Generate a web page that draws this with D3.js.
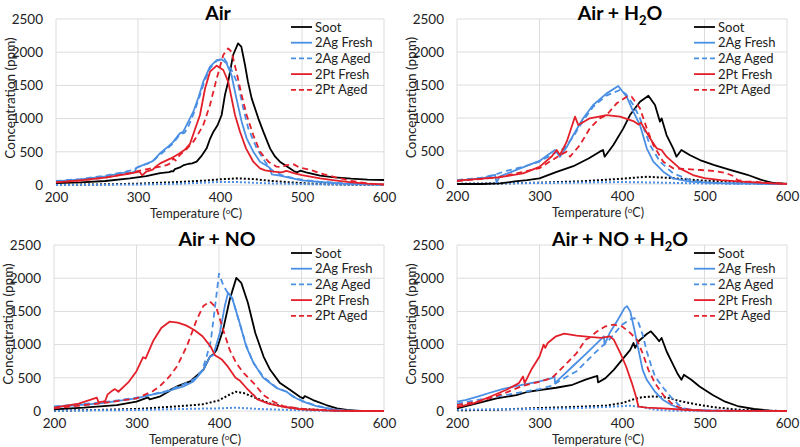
<!DOCTYPE html>
<html><head><meta charset="utf-8">
<script src="https://cdn.jsdelivr.net/npm/d3@7"></script>
<style>
html,body{margin:0;padding:0;background:#fff;}
svg{display:block;font-family:Lato,"Noto Sans",sans-serif;}
</style></head>
<body>
<svg id="chart" width="800" height="447"></svg>
<script>
// ---------------- DATA ----------------
const temperatureTicks = [200, 300, 400, 500, 600];
const concentrationTicks = [0, 500, 1000, 1500, 2000, 2500];
const seriesNames = ["Soot", "2Ag Fresh", "2Ag Aged", "2Pt Fresh", "2Pt Aged"];
const panelTitles = ["Air", "Air + H2O", "Air + NO", "Air + NO + H2O"];

// Panel 1: Air  ([temperature °C, concentration ppm])
const air_soot = [[200,30],[230,40],[260,60],[290,100],[310,135],[327,180],[338,195],[341,210],[343,205],[345,240],[352,270],[356,300],[362,320],[366,325],[371.5,351],[377,430],[383.7,552],[388,700],[392,803],[397,900],[402,1054],[406,1355],[410,1556],[416,1958],[422,2133],[426,2083],[430.5,1807],[434,1560],[438.6,1305],[446.7,1004],[452.8,803],[461,552],[467,430],[473,351],[485,251],[490,210],[493.5,190],[498,215],[505,190],[522,140],[540,115],[560,95],[580,82],[600,75]];
const air_agFresh = [[200,55],[230,85],[260,130],[285,190],[290,178],[296,200],[298,260],[303,285],[310,320],[318,360],[327,480],[335,560],[343,650],[351,778],[355,800],[360,920],[367.5,1104],[374,1330],[379.6,1556],[387.8,1782],[396,1882],[402,1892],[408,1832],[414,1656],[420,1305],[426.4,954],[432.5,703],[440.6,502],[448.8,351],[459,276],[461,250],[463,160],[473,140],[490,95],[500,70],[522,45],[550,22],[580,8],[600,5]];
const air_agAged = [[200,60],[230,90],[260,140],[285,200],[295,230],[300,270],[305,295],[312,320],[320,380],[327,460],[335,540],[343,630],[351,760],[357,790],[362,900],[368,1080],[375,1330],[381,1560],[388,1760],[396,1870],[405,1907],[414,1732],[422.3,1506],[428.4,1154],[434.5,853],[444.7,552],[455,351],[461,251],[466,200],[475,150],[490,100],[500,80],[520,50],[550,25],[600,5]];
const air_ptFresh = [[200,40],[230,70],[260,110],[290,170],[302,200],[305,145],[310,200],[318,230],[322,280],[327,326],[340,400],[350,470],[357,530],[363.4,620],[369,820],[375.6,1054],[381.7,1450],[387.8,1707],[396,1797],[404,1732],[410,1556],[418.3,1054],[424.4,803],[431.7,552],[440.6,351],[448.8,251],[455,220],[465,201],[475,190],[481,211],[490,180],[500,150],[522,100],[540,70],[560,40],[580,20],[600,10]];
const air_ptAged = [[200,40],[230,70],[260,110],[290,180],[300,210],[320,260],[327,276],[335,300],[340,330],[343,400],[346,370],[351,452],[360,550],[367.5,652],[373,760],[379.6,903],[387.8,1205],[396,1606],[404,1958],[410,2058],[414,2008],[420,1707],[426.4,1355],[432.5,1054],[440.6,753],[448.8,502],[459,351],[469,276],[475,270],[481,300],[490,310],[497.5,260],[510,230],[522,176],[540,120],[560,60],[580,25],[600,5]];
const air_dotBlack = [[200,2],[250,8],[300,20],[340,40],[380,65],[400,85],[420,100],[440,90],[460,65],[480,45],[500,28],[530,12],[560,5],[600,2]];
const air_dotBlue = [[200,0],[300,8],[350,20],[380,35],[400,45],[420,45],[440,35],[460,25],[500,15],[550,5],[600,0]];

// Panel 2: Air + H2O
const h2o_soot = [[200,0],[230,0],[252,8],[270,40],[285,60],[300,85],[320,180],[341,270],[360,390],[373,490],[377,515],[379,414],[389.5,590],[401.6,843],[409.7,1045],[421.8,1247],[432,1338],[440,1197],[446,944],[448,995],[454,742],[462,540],[466,414],[472,515],[482,439],[494.5,363],[511,290],[531,215],[552,140],[568,65],[584,15],[600,0]];
const h2o_agFresh = [[200,50],[232,90],[246,140],[248,25],[252,115],[272,215],[300,350],[310,440],[318.8,515],[324.8,414],[333,560],[341,742],[353,995],[365,1197],[381.4,1373],[395.5,1484],[405.6,1323],[413.7,1096],[421.8,894],[430,540],[438,338],[450,186],[462,85],[482,35],[515,12],[560,5],[600,0]];
const h2o_agAged = [[200,60],[230,95],[248,150],[260,200],[280,260],[300,340],[320,480],[330,540],[341,720],[353,960],[365,1170],[381,1340],[397.6,1424],[405,1360],[413.7,1197],[421.8,995],[434,590],[446,338],[462,161],[482,60],[500,25],[530,8],[600,0]];
const h2o_ptFresh = [[200,50],[250,100],[280,160],[300,260],[315,420],[320.8,515],[324.8,439],[333,641],[343,1020],[347,894],[361,995],[381.4,1045],[397.6,1020],[413.7,954],[420,900],[423,930],[434,692],[442,540],[448,515],[454,414],[470,237],[486,136],[500,90],[520,60],[540,40],[560,25],[580,10],[600,0]];
const h2o_ptAged = [[200,45],[250,100],[300,240],[325,439],[333,490],[337,414],[349,590],[361,843],[373,995],[381.4,1045],[393.5,1222],[405.6,1323],[411.7,1323],[421.8,1146],[430,843],[438,590],[450,338],[462,237],[478,227],[494.5,212],[510,200],[525,170],[535,120],[540,60],[550,40],[580,15],[600,5]];
const h2o_dotBlack = [[200,0],[250,8],[300,20],[350,40],[400,80],[430,110],[460,90],[500,50],[550,25],[580,10],[600,0]];
const h2o_dotBlue = [[200,5],[250,10],[300,15],[350,22],[400,30],[450,20],[500,8],[550,3],[600,0]];

// Panel 3: Air + NO
const no_soot = [[200,25],[236,50],[276,90],[300,140],[314,205],[316,175],[328,215],[340,300],[341,320],[349,370],[365,445],[381,620],[389,820],[393,850],[397,920],[405,1225],[413,1680],[421,2005],[427,1930],[435,1630],[444,1175],[454,820],[462,620],[474,420],[486,320],[498,215],[502,190],[504,225],[514,165],[530,90],[543,40],[555,15],[570,3],[600,0]];
const no_agFresh = [[200,60],[256,115],[300,190],[316,240],[336,290],[357,370],[369,445],[381,620],[389,820],[393,840],[401,1175],[407,1580],[411,1780],[416,1700],[425,1325],[433,970],[442,720],[454,495],[470,345],[482,290],[490,215],[502,140],[518,75],[538,25],[555,5],[600,0]];
const no_agAged = [[200,70],[256,125],[300,200],[336,300],[357,400],[370,480],[380,620],[385,820],[390,1050],[395,1550],[400,2070],[405,1900],[410,1790],[416,1700],[425,1325],[433,990],[441,740],[454,510],[470,350],[482,290],[490,220],[502,150],[518,80],[538,25],[555,5],[600,0]];
const no_ptFresh = [[200,50],[230,110],[252,200],[254,130],[262,150],[265,250],[270,300],[274,330],[278,290],[290,430],[300,600],[308,810],[311,790],[320,1050],[330,1250],[340,1345],[350,1330],[360,1290],[370,1220],[380,1125],[390,970],[395,840],[403,780],[410,680],[420,500],[425,460],[433,350],[440,260],[443,230],[446,180],[450,160],[460,110],[480,60],[500,25],[530,8],[560,0],[600,0]];
const no_ptAged = [[200,40],[256,115],[300,190],[320,300],[328,370],[340,520],[349,670],[361,975],[373,1375],[381,1580],[389,1650],[397,1550],[405,1225],[413,920],[421,720],[430,570],[442,420],[454,240],[466,140],[478,75],[498,35],[530,10],[560,0],[600,0]];
const no_dotBlack = [[200,5],[250,15],[300,30],[350,70],[380,100],[400,160],[410,230],[420,290],[430,270],[440,220],[460,120],[480,60],[500,30],[540,5],[560,0],[600,0]];
const no_dotBlue = [[200,5],[250,10],[300,15],[350,30],[400,40],[420,50],[450,30],[500,10],[550,0],[600,0]];

// Panel 4: Air + NO + H2O
const noh2o_soot = [[200,40],[224,115],[248,190],[272,240],[286,290],[300,315],[320,350],[340,395],[355,470],[368,520],[370,530],[371,430],[380,495],[390,620],[400,770],[410,920],[414,1025],[416,950],[420,1050],[430,1160],[435,1200],[442,1100],[445,1050],[448,1100],[454,900],[461,720],[467,570],[472,470],[475,545],[484,470],[494,370],[510,240],[525,140],[540,75],[560,30],[580,5],[600,0]];
const noh2o_agFresh = [[200,140],[210,165],[225,215],[240,275],[255,330],[270,370],[285,410],[300,445],[315,495],[318,530],[319,420],[325,495],[340,670],[355,845],[370,1025],[378,1125],[379,1000],[385,1175],[395,1375],[403,1550],[406,1580],[410,1500],[415,1225],[420,920],[425,620],[430,470],[440,290],[450,165],[460,90],[470,40],[485,15],[520,3],[600,0]];
const noh2o_agAged = [[200,110],[250,220],[300,330],[315,380],[325,460],[345,600],[365,850],[385,1080],[400,1300],[410,1380],[415,1400],[420,1330],[425,1150],[430,900],[435,700],[440,520],[450,350],[460,200],[468,100],[475,40],[485,15],[500,5],[600,0]];
const noh2o_ptFresh = [[200,60],[220,115],[240,215],[260,320],[275,420],[280,520],[282,420],[290,620],[300,820],[305,1000],[307,950],[310,1025],[320,1125],[330,1165],[345,1135],[360,1115],[375,1100],[385,1125],[390,1075],[398,870],[405,670],[412,420],[417,215],[420,65],[430,50],[450,40],[480,15],[500,5],[600,0]];
const noh2o_ptAged = [[200,90],[230,150],[260,280],[280,380],[300,440],[315,495],[325,620],[335,745],[345,870],[352,1000],[356,1075],[360,1100],[370,1200],[380,1275],[390,1300],[400,1275],[410,1175],[418,1075],[425,870],[432,620],[440,420],[450,240],[460,115],[470,50],[480,25],[500,5],[600,0]];
const noh2o_dotBlack = [[200,10],[250,20],[300,45],[350,65],[380,80],[400,120],[415,180],[425,210],[440,220],[455,200],[470,150],[490,100],[510,60],[540,20],[570,5],[600,0]];
const noh2o_dotBlue = [[200,20],[250,25],[300,30],[350,45],[380,60],[410,80],[425,60],[440,20],[460,5],[600,0]];

// ---------------- STYLES / LAYOUT ----------------
const seriesStyle = [
  {color:"#000000", dash:null},
  {color:"#4a8fe3", dash:null},
  {color:"#4a8fe3", dash:"6,4"},
  {color:"#e3202a", dash:null},
  {color:"#e3202a", dash:"6,4"}
];
const panels = [
  {title:panelTitles[0], sub:false, x0:56, x1:384, y0:19, y1:185, lines:[air_soot,air_agFresh,air_agAged,air_ptFresh,air_ptAged], dots:[air_dotBlack,air_dotBlue]},
  {title:panelTitles[1], sub:true, x0:457, x1:787, y0:19, y1:184, lines:[h2o_soot,h2o_agFresh,h2o_agAged,h2o_ptFresh,h2o_ptAged], dots:[h2o_dotBlack,h2o_dotBlue]},
  {title:panelTitles[2], sub:false, x0:54, x1:384, y0:245, y1:411, lines:[no_soot,no_agFresh,no_agAged,no_ptFresh,no_ptAged], dots:[no_dotBlack,no_dotBlue]},
  {title:panelTitles[3], sub:true, x0:457, x1:787, y0:245, y1:411, lines:[noh2o_soot,noh2o_agFresh,noh2o_agAged,noh2o_ptFresh,noh2o_ptAged], dots:[noh2o_dotBlack,noh2o_dotBlue]}
];

const svg = d3.select("#chart");

panels.forEach((p) => {
  const x = d3.scaleLinear().domain([200, 600]).range([p.x0, p.x1]);
  const y = d3.scaleLinear().domain([0, 2500]).range([p.y1, p.y0]);
  const g = svg.append("g");

  // gridlines
  g.append("g").selectAll("line").data(concentrationTicks).join("line")
    .attr("x1", p.x0).attr("x2", p.x1)
    .attr("y1", d => y(d)).attr("y2", d => y(d))
    .attr("stroke", "#dcdcdc").attr("stroke-width", 1);
  g.append("g").selectAll("line").data(temperatureTicks).join("line")
    .attr("x1", d => x(d)).attr("x2", d => x(d))
    .attr("y1", p.y0).attr("y2", p.y1)
    .attr("stroke", "#dcdcdc").attr("stroke-width", 1);

  // axes (labels only)
  const yAxis = g.append("g").attr("transform", `translate(${p.x0},0)`)
    .call(d3.axisLeft(y).tickValues(concentrationTicks).tickSize(0).tickPadding(13).tickFormat(d3.format("d")));
  yAxis.select(".domain").remove();
  yAxis.selectAll("text").attr("font-size", 13.5).attr("fill", "#222").attr("font-family", "Lato,sans-serif");

  const xAxis = g.append("g").attr("transform", `translate(0,${p.y1})`)
    .call(d3.axisBottom(x).tickValues(temperatureTicks).tickSize(0).tickPadding(7).tickFormat(d3.format("d")));
  xAxis.select(".domain").remove();
  xAxis.selectAll("text").attr("font-size", 13.5).attr("fill", "#222").attr("font-family", "Lato,sans-serif");

  // axis titles
  const xt = g.append("text").attr("x", (p.x0 + p.x1) / 2 - 24).attr("y", p.y1 + 33)
    .attr("text-anchor", "middle").attr("font-size", 12.5).attr("fill", "#222");
  xt.append("tspan").text("Temperature (");
  xt.append("tspan").text("o").attr("font-size", 8).attr("dy", -4);
  xt.append("tspan").text("C)").attr("dy", 4);

  g.append("text").attr("transform", `translate(${p.x0 - 41.5},${(p.y0 + p.y1) / 2 - 4}) rotate(-90)`)
    .attr("text-anchor", "middle").attr("font-size", 13.5).attr("fill", "#222")
    .text("Concentration (ppm)");

  // title
  const cx = (p.x0 + p.x1) / 2 - 2;
  const t = g.append("text").attr("x", cx).attr("y", p.y0 + 0.5)
    .attr("text-anchor", "middle").attr("font-size", 19.5).attr("font-weight", 700).attr("fill", "#000");
  if (p.sub) {
    const base = p.title.replace("H2O", "H");
    t.append("tspan").text(base);
    t.append("tspan").text("2").attr("font-size", 13).attr("dy", 5);
    t.append("tspan").text("O").attr("dy", -5);
  } else {
    t.text(p.title);
  }

  const line = d3.line().x(d => x(d[0])).y(d => y(d[1]));

  // dotted minor series
  g.append("path").datum(p.dots[0]).attr("d", line).attr("fill", "none")
    .attr("stroke", "#000").attr("stroke-width", 2).attr("stroke-dasharray", "2,2");
  g.append("path").datum(p.dots[1]).attr("d", line).attr("fill", "none")
    .attr("stroke", "#4a8fe3").attr("stroke-width", 2).attr("stroke-dasharray", "2,2");

  // main series
  const order = [0, 1, 2, 4, 3];
  order.forEach(i => {
    g.append("path").datum(p.lines[i]).attr("d", line).attr("fill", "none")
      .attr("stroke", seriesStyle[i].color).attr("stroke-width", 1.8)
      .attr("stroke-dasharray", seriesStyle[i].dash)
      .attr("stroke-linejoin", "round");
  });

  // legend
  const lx = p.x1 - 93, ly = p.y0 + 8;
  seriesNames.forEach((name, i) => {
    const yy = ly + i * 15.7;
    g.append("line").attr("x1", lx).attr("x2", lx + 21).attr("y1", yy).attr("y2", yy)
      .attr("stroke", seriesStyle[i].color).attr("stroke-width", 1.8)
      .attr("stroke-dasharray", seriesStyle[i].dash ? "5,3" : null);
    g.append("text").attr("x", lx + 24).attr("y", yy + 4.5).attr("font-size", 13)
      .attr("fill", "#222").text(name);
  });
});
</script>
</body></html>
